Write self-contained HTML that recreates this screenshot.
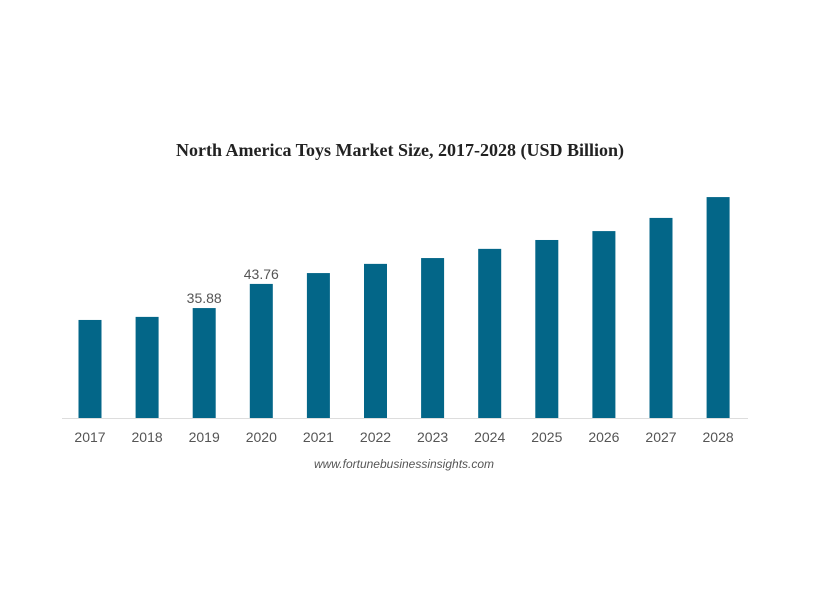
<!DOCTYPE html>
<html><head><meta charset="utf-8">
<style>
body{margin:0;background:#fff;width:817px;height:612px;overflow:hidden}
svg{display:block}
</style></head>
<body>
<svg id="chart" width="817" height="612">
<text x="400" y="156" text-anchor="middle" font-family="Liberation Serif, serif" font-weight="bold" font-size="18" fill="#222">North America Toys Market Size, 2017-2028 (USD Billion)</text>
<line x1="62" y1="418.5" x2="748" y2="418.5" stroke="#ddd" stroke-width="1"/>
<text x="404" y="468" text-anchor="middle" font-family="Liberation Sans, sans-serif" font-style="italic" font-size="12" fill="#555">www.fortunebusinessinsights.com</text>
</svg>
<script>
const categories=["2017","2018","2019","2020","2021","2022","2023","2024","2025","2026","2027","2028"];
const values=[32.0,33.0,35.88,43.76,47.3,50.3,52.2,55.2,58.1,61.0,65.3,72.1];
const labels=[null,null,"35.88","43.76",null,null,null,null,null,null,null,null];
const svg=document.getElementById('chart');
const NS='http://www.w3.org/2000/svg';
const baseY=418, scale=3.064;
function yPos(v){return baseY-v*scale;}
function xCenter(i){return 90+i*57.1;}
const bw=23;
categories.forEach((c,i)=>{
  const r=document.createElementNS(NS,'rect');
  r.setAttribute('x',xCenter(i)-bw/2);
  r.setAttribute('y',yPos(values[i]));
  r.setAttribute('width',bw);
  r.setAttribute('height',baseY-yPos(values[i]));
  r.setAttribute('fill','#036688');
  
  
  svg.appendChild(r);
  const t=document.createElementNS(NS,'text');
  t.setAttribute('x',xCenter(i));
  t.setAttribute('y',442);
  t.setAttribute('text-anchor','middle');
  t.setAttribute('font-family','Liberation Sans, sans-serif');
  t.setAttribute('font-size','14');
  t.setAttribute('fill','#555');
  t.textContent=c;
  
  
  svg.appendChild(t);
  if(labels[i]){
    const l=document.createElementNS(NS,'text');
    l.setAttribute('x',xCenter(i));
    l.setAttribute('y',yPos(values[i])-5);
    l.setAttribute('text-anchor','middle');
    l.setAttribute('font-family','Liberation Sans, sans-serif');
    l.setAttribute('font-size','14');
    l.setAttribute('fill','#555');
    l.textContent=labels[i];
    
    
    svg.appendChild(l);
  }
});
</script>
</body></html>
